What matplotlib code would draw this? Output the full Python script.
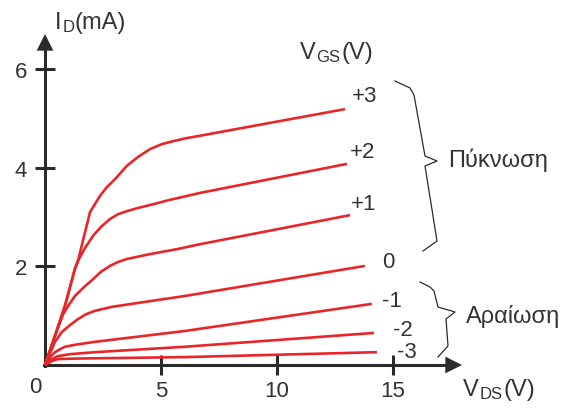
import matplotlib
matplotlib.use("Agg")
import matplotlib.pyplot as plt

plt.rcParams["font.family"] = ["Liberation Sans", "DejaVu Sans"]

# characteristic curves I_D(V_DS) for each V_GS
vgs_labels = ["+3", "+2", "+1", "0", "-1", "-2", "-3"]
vds_p3 = [0, 0.43, 0.86, 1.29, 1.42, 1.94, 2.16, 2.37, 2.67, 3.02, 3.53, 4.01,
          4.53, 5.04, 5.52, 6.08, 6.68, 12.93]
id_p3 = [0, 0.59, 1.20, 1.95, 2.11, 3.10, 3.27, 3.43, 3.61, 3.77, 4.04, 4.22,
         4.38, 4.48, 4.54, 4.60, 4.65, 5.19]
vds_p2 = [0, 0.43, 0.86, 1.29, 1.42, 1.72, 2.07, 2.41, 2.80, 3.15, 3.53, 3.97,
          4.40, 5.39, 6.68, 13.02]
id_p2 = [0, 0.59, 1.20, 1.95, 2.11, 2.37, 2.62, 2.80, 2.96, 3.06, 3.12, 3.18,
         3.23, 3.35, 3.49, 4.08]
vds_p1 = [0, 0.43, 0.78, 1.03, 1.29, 1.68, 2.07, 2.41, 2.80, 3.15, 3.53, 4.53,
          5.69, 6.68, 13.15]
id_p1 = [0, 0.59, 1.03, 1.22, 1.40, 1.58, 1.74, 1.89, 2.01, 2.09, 2.15, 2.25,
         2.35, 2.45, 3.04]
vds_0 = [0, 0.22, 0.43, 0.73, 1.08, 1.42, 1.77, 2.16, 2.89, 4.31, 6.03, 13.79]
id_0 = [0, 0.24, 0.47, 0.67, 0.81, 0.93, 1.03, 1.10, 1.18, 1.28, 1.40, 2.01]
vds_m1 = [0, 0.22, 0.43, 0.65, 0.86, 1.29, 2.16, 6.03, 14.09]
id_m1 = [0, 0.16, 0.26, 0.32, 0.37, 0.41, 0.47, 0.69, 1.24]
vds_m2 = [0, 0.30, 0.56, 1.08, 2.16, 6.03, 14.18]
id_m2 = [0, 0.12, 0.18, 0.22, 0.26, 0.37, 0.65]
vds_m3 = [0, 0.30, 0.56, 1.29, 6.03, 14.31]
id_m3 = [0, 0.08, 0.12, 0.13, 0.16, 0.26]

x_ticks = [5, 10, 15]
y_ticks = [2, 4, 6]

W, H = 578, 410
RED = "#e8262a"
INK = "#2b2b2b"
TXT = "#333333"

fig = plt.figure(figsize=(W / 100, H / 100), dpi=100)
ax = fig.add_axes([0, 0, 1, 1])
# pixel mapping: x_px = 45 + 23.2*V, y_px = 366 - 49.3*mA
ax.set_xlim(-45 / 23.2, (W - 45) / 23.2)
ax.set_ylim((366 - H) / 49.3, 366 / 49.3)
ax.patch.set_alpha(0)


def fpos(px, py):
    return px / W, 1 - py / H


curves = [
    (vds_p3, id_p3), (vds_p2, id_p2), (vds_p1, id_p1), (vds_0, id_0),
    (vds_m1, id_m1), (vds_m2, id_m2), (vds_m3, id_m3),
]
for vds, i_d in curves:
    ax.plot(vds, i_d, color=RED, lw=1.9, solid_capstyle="butt",
            solid_joinstyle="round", zorder=3)

# axes with arrows
x_tip = (462 - 45) / 23.2
y_tip = (35 - 366) / -49.3
for s in ["top", "right"]:
    ax.spines[s].set_visible(False)
ax.spines["left"].set_position(("data", 0))
ax.spines["bottom"].set_position(("data", 0))
ax.spines["left"].set_bounds(-0.03, y_tip - 0.2)
ax.spines["bottom"].set_bounds(-0.05, x_tip - 0.4)
for s in ["left", "bottom"]:
    ax.spines[s].set_linewidth(2.2)
    ax.spines[s].set_color(INK)
arrow_style = dict(arrowstyle="-|>,head_length=0.6,head_width=0.3",
                   mutation_scale=20, lw=0, color=INK, shrinkA=0, shrinkB=0)
ax.annotate("", xy=(x_tip, 0), xytext=(x_tip - 0.8, 0), arrowprops=arrow_style)
ax.annotate("", xy=(0, y_tip), xytext=(0, y_tip - 0.4), arrowprops=arrow_style)

ax.set_xticks(x_ticks)
ax.set_yticks(y_ticks)
ax.tick_params(direction="inout", length=14, width=2.2, color=INK,
               labelsize=16, labelcolor=TXT)
ax.tick_params(axis="x", pad=4)
ax.tick_params(axis="y", pad=6)


def sub_label(px, py, main, sub, tail):
    # big letter, small subscript letters, then the unit
    t0 = fig.text(*fpos(px, py), main, fontsize=17, color=TXT,
                  ha="left", va="baseline")
    t1 = ax.annotate(sub, xy=(1, 0), xycoords=t0, xytext=(0.5, -0.5),
                     textcoords="offset points", fontsize=12, color=TXT,
                     ha="left", va="bottom")
    ax.annotate(tail, xy=(1, 0), xycoords=t1, xytext=(0.5, 0.5),
                textcoords="offset points", fontsize=17, color=TXT,
                ha="left", va="bottom")


# axis titles and origin
fig.text(*fpos(35, 388), "0", fontsize=16, color=TXT, ha="center", va="center")
sub_label(55, 29, "I", "D", "(mA)")
sub_label(463, 396, "V", "DS", "(V)")
sub_label(300, 59, "V", "GS", "(V)")

# V_GS labels at the curve ends
label_pos = [(365, 97), (363, 153), (364, 205), (388, 263), (392, 302),
             (403, 330), (407, 353)]
for lab, (px, py) in zip(vgs_labels, label_pos):
    fig.text(*fpos(px, py), lab, fontsize=16, color=TXT, ha="center", va="center")

# braces
brace_up = [(395, 82), (410, 89), (414, 96), (425, 157), (437, 162),
            (425, 167), (433, 217), (437, 242), (423, 252)]
brace_lo = [(420, 283), (430, 288), (434, 292), (438, 308), (455, 313),
            (446, 320), (448, 347), (438, 358)]
for br in (brace_up, brace_lo):
    xs = [p[0] / W for p in br]
    ys = [1 - p[1] / H for p in br]
    fig.add_artist(plt.Line2D(xs, ys, color=INK, lw=0.9))

fig.text(*fpos(448, 160), "Πύκνωση", fontsize=17, color=TXT, ha="left", va="center")
fig.text(*fpos(466, 317), "Αραίωση", fontsize=17, color=TXT, ha="left", va="center")

fig.savefig("out.png", dpi=100)
